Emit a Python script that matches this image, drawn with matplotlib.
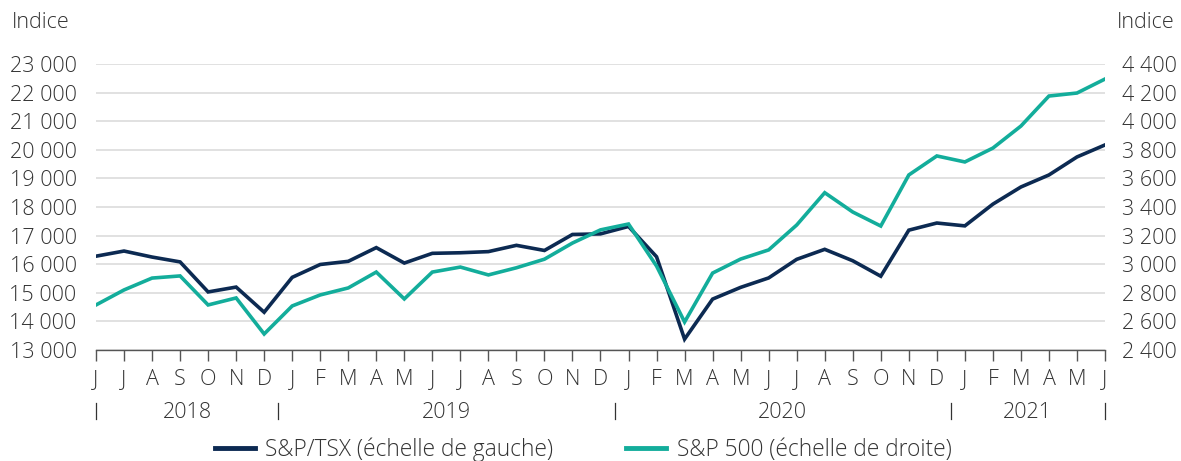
import matplotlib
matplotlib.use("Agg")
import matplotlib.pyplot as plt
from matplotlib.lines import Line2D
import matplotlib.transforms as mtransforms

plt.rcParams['font.family'] = ['Open Sans', 'DejaVu Sans']
plt.rcParams['font.weight'] = 'light'

months = ["J", "J", "A", "S", "O", "N", "D",
          "J", "F", "M", "A", "M", "J", "J", "A", "S", "O", "N", "D",
          "J", "F", "M", "A", "M", "J", "J", "A", "S", "O", "N", "D",
          "J", "F", "M", "A", "M", "J"]
years = ["2018", "2019", "2020", "2021"]
year_counts = [7, 12, 12, 6]

tsx = [16280, 16460, 16250, 16080, 15030, 15200, 14320,
       15540, 15990, 16100, 16580, 16040, 16380, 16400, 16440, 16660, 16480, 17040, 17060,
       17320, 16260, 13380, 14780, 15190, 15520, 16170, 16520, 16120, 15580, 17190, 17440,
       17340, 18100, 18700, 19120, 19750, 20170]
sp500 = [2715, 2820, 2903, 2918, 2715, 2764, 2512,
         2708, 2785, 2834, 2945, 2757, 2945, 2980, 2925, 2975, 3035, 3148, 3240,
         3281, 2987, 2596, 2938, 3036, 3100, 3274, 3500, 3365, 3267, 3624, 3757,
         3715, 3812, 3966, 4176, 4197, 4295]

left_ticks = list(range(13000, 23001, 1000))
right_ticks = list(range(2400, 4401, 200))

def fmt(v):
    return f"{v:,}".replace(",", " ")

navy = "#0c2a52"
teal = "#13ad9b"
txt = "#333333"
grid = "#d9d9d9"

fig = plt.figure(figsize=(11.81, 4.61), dpi=100)
ax = fig.add_axes([96/1181, 1-350/461, (1105-96)/1181, (350-64)/461])
ax2 = ax.twinx()

x = list(range(len(months)))
ax.plot(x, tsx, color=navy, lw=2.6, solid_joinstyle='miter', zorder=3)
ax2.plot(x, sp500, color=teal, lw=2.6, solid_joinstyle='miter', zorder=3)

ax.set_xlim(0, len(months)-1)
ax.set_ylim(13000, 23000)
ax2.set_ylim(2400, 4400)
ax.set_yticks(left_ticks)
ax.set_yticklabels([fmt(v) for v in left_ticks])
ax2.set_yticks(right_ticks)
ax2.set_yticklabels([fmt(v) for v in right_ticks])

for a in (ax, ax2):
    for s in a.spines.values():
        s.set_visible(False)
    a.tick_params(axis='y', length=0, labelsize=15.5, labelcolor=txt, pad=14)
ax2.tick_params(axis='y', pad=12)

ax.yaxis.grid(True, color=grid, lw=1.1)
ax.set_axisbelow(True)
ax.spines['bottom'].set_visible(True)
ax.spines['bottom'].set_color("#555555")
ax.spines['bottom'].set_linewidth(1.0)

ax.set_xticks(x)
ax.set_xticklabels(months)
ax.tick_params(axis='x', direction='out', length=8, width=1.0, color="#555555",
               labelsize=15.5, labelcolor=txt, pad=6)

trans = mtransforms.blended_transform_factory(ax.transData, fig.transFigure)
bounds = [0]
pos = 0
for c in year_counts:
    pos += c
    bounds.append(pos)
sep_x = [0] + [b - 0.5 for b in bounds[1:-1]] + [len(months)-1]
for sx in sep_x:
    ax.add_line(Line2D([sx, sx], [1-419/461, 1-403/461], transform=trans,
                       color=txt, lw=0.9, clip_on=False))
for i, yr in enumerate(years):
    cx = (sep_x[i] + sep_x[i+1]) / 2
    ax.text(cx, 1-412/461, yr, transform=trans, ha='center', va='center',
            fontsize=15.5, color=txt)

fig.text(12/1181, 1-22/461, "Indice", ha='left', va='center', fontsize=15.5, color=txt)
fig.text(1117/1181, 1-22/461, "Indice", ha='left', va='center', fontsize=15.5, color=txt)

handles = [Line2D([], [], color=navy, lw=3.5), Line2D([], [], color=teal, lw=3.5)]
labels = ["S&P/TSX (échelle de gauche)", "S&P 500 (échelle de droite)"]
fig.legend(handles, labels, loc='center', bbox_to_anchor=(0.494, 1-450/461), ncol=2,
           frameon=False, fontsize=16.4, labelcolor=txt, handlelength=1.75,
           columnspacing=3.2, handletextpad=0.45)

fig.savefig("out.png", dpi=100)
